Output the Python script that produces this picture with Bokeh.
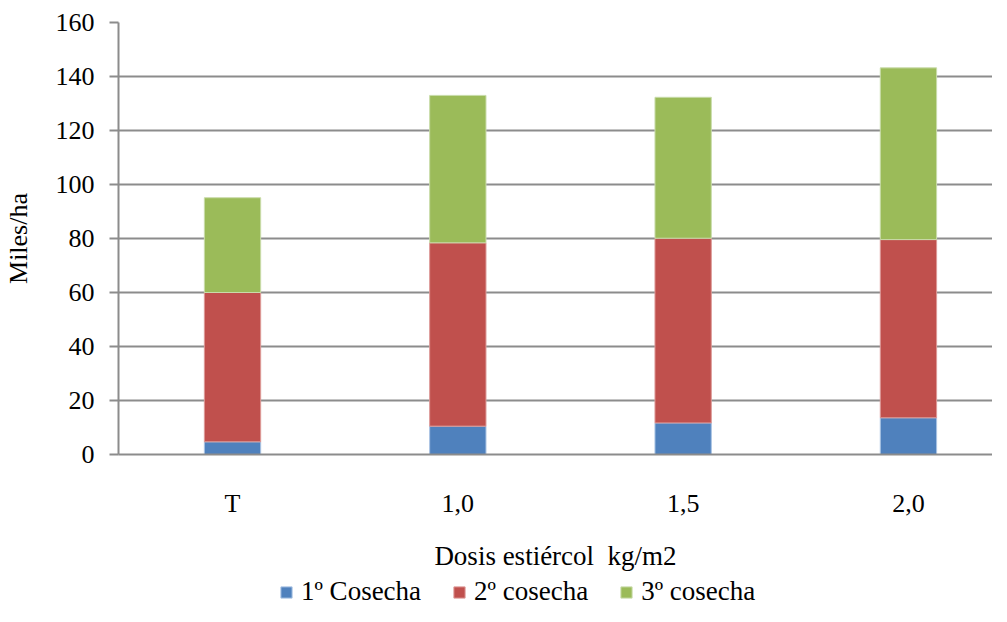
from bokeh.plotting import figure
from bokeh.layouts import column
from bokeh.models import Range1d, FixedTicker, Legend, LegendItem, ColumnDataSource
from bokeh.embed import file_html
from bokeh.resources import INLINE

categories = ["T", "1,0", "1,5", "2,0"]
series_names = ["1º Cosecha", "2º cosecha", "3º cosecha"]
cosecha1 = [4.7, 10.5, 11.7, 13.6]
cosecha2 = [55.3, 67.9, 68.4, 66.0]
cosecha3 = [35.1, 54.6, 52.2, 63.6]
colors = ["#4F81BD", "#C0504D", "#9BBB59"]
y_ticks = [0, 20, 40, 60, 80, 100, 120, 140, 160]

FONT = "Liberation Serif"
GRID = "#8c8c8c"
EDGES = ["#a9c3e3", "#dd9a98", "#c9dcaa"]

xs = list(range(len(categories)))
c1 = cosecha1
c12 = [a + b for a, b in zip(cosecha1, cosecha2)]
c123 = [a + b for a, b in zip(c12, cosecha3)]

source = ColumnDataSource(dict(x=xs, c0=[0] * len(xs), c1=c1, c12=c12, c123=c123))
stack = [("c0", "c1"), ("c1", "c12"), ("c12", "c123")]

p = figure(frame_width=874, frame_height=432, output_backend="svg", toolbar_location=None,
           x_range=Range1d(-0.506, 3.373), y_range=Range1d(0, 160),
           min_border_left=117, min_border_right=0, min_border_top=22, min_border_bottom=116)
p.outline_line_color = None
p.background_fill_color = "white"
p.border_fill_color = "white"

for (b, t), col, edge in zip(stack, colors, EDGES):
    p.vbar(x="x", bottom=b, top=t, width=0.25, source=source,
           fill_color=col, line_color=edge, line_width=1)

# axes
p.xaxis.ticker = FixedTicker(ticks=xs)
p.xaxis.major_label_overrides = {i: c for i, c in zip(xs, categories)}
p.xaxis.major_tick_out = 0
p.xaxis.major_tick_in = 0
p.xaxis.minor_tick_line_color = None
p.xaxis.axis_line_color = GRID
p.xaxis.axis_line_width = 2
p.xaxis.major_label_text_font = FONT
p.xaxis.major_label_text_font_size = "26px"
p.xaxis.major_label_text_color = "black"
p.xaxis.major_label_standoff = 34
p.xaxis.axis_label = "Dosis estiércol\u00a0\u00a0kg/m2"
p.xaxis.axis_label_text_font = FONT
p.xaxis.axis_label_text_font_size = "27px"
p.xaxis.axis_label_text_font_style = "normal"
p.xaxis.axis_label_text_color = "black"
p.xaxis.axis_label_standoff = 20

p.yaxis.ticker = FixedTicker(ticks=y_ticks)
p.yaxis.major_tick_out = 9
p.yaxis.major_tick_in = 0
p.yaxis.major_tick_line_color = GRID
p.yaxis.major_tick_line_width = 2
p.yaxis.minor_tick_line_color = None
p.yaxis.axis_line_color = GRID
p.yaxis.axis_line_width = 2
p.yaxis.major_label_text_font = FONT
p.yaxis.major_label_text_font_size = "26px"
p.yaxis.major_label_text_color = "black"
p.yaxis.major_label_standoff = 15
p.yaxis.axis_label = "Miles/ha"
p.yaxis.axis_label_text_font = FONT
p.yaxis.axis_label_text_font_size = "26px"
p.yaxis.axis_label_text_font_style = "normal"
p.yaxis.axis_label_text_color = "black"
p.yaxis.axis_label_standoff = 20

p.xgrid.grid_line_color = None
p.ygrid.ticker = FixedTicker(ticks=y_ticks)
p.ygrid.grid_line_color = GRID
p.ygrid.grid_line_width = 2

# legend strip below the chart (hidden copies of the series supply the legend swatches)
lg = figure(width=991, height=34, output_backend="svg", toolbar_location=None,
            x_range=Range1d(-0.506, 3.373), y_range=Range1d(0, 160),
            min_border_left=0, min_border_right=0, min_border_top=0, min_border_bottom=0)
lg.axis.visible = False
lg.grid.visible = False
lg.outline_line_color = None
lg.border_fill_color = "white"
items = []
for name, (b, t), col, edge in zip(series_names, stack, colors, EDGES):
    r = lg.vbar(x="x", bottom=b, top=t, width=0.25, source=source,
                fill_color=col, line_color=edge, line_width=1, visible=False)
    items.append(LegendItem(label=name, renderers=[r]))

legend = Legend(items=items, orientation="horizontal", location=(161, 0),
                label_text_font=FONT, label_text_font_size="27px", label_text_color="black",
                glyph_width=14, glyph_height=14, label_standoff=8, spacing=31,
                padding=0, margin=0, border_line_color=None, background_fill_alpha=0,
                inactive_fill_alpha=0)
lg.add_layout(legend, "center")

layout = column(p, lg, spacing=0)
open("out.html", "w").write(file_html(layout, INLINE))
